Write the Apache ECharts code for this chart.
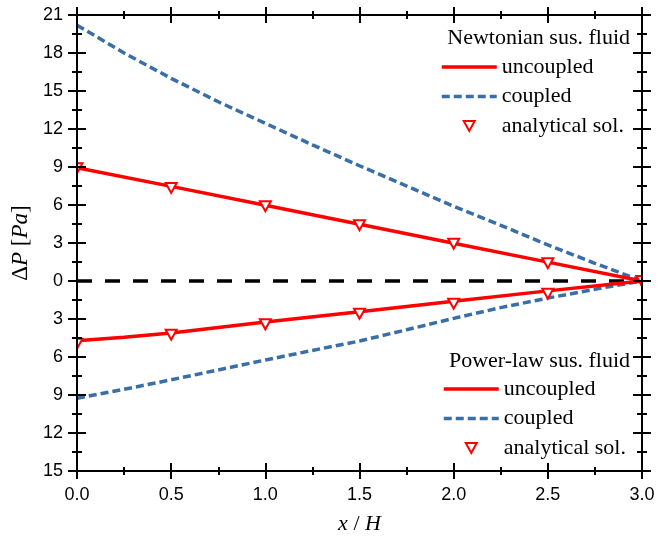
<!DOCTYPE html>
<html>
<head>
<meta charset="utf-8">
<script src="https://cdn.jsdelivr.net/npm/echarts@6/dist/echarts.min.js"></script>
<style>
  html, body { margin: 0; padding: 0; background: #fff; }
  #chart { width: 669px; height: 544px; }
</style>
</head>
<body>
<div id="chart"></div>
<script>
// Axial positions x/H
const xFine = [0, 0.25, 0.5, 0.75, 1.0, 1.25, 1.5, 1.75, 2.0, 2.25, 2.5, 2.75, 3.0];
const xCoarse = [0, 0.5, 1.0, 1.5, 2.0, 2.5, 3.0];
const xPlawUncoupled = [0, 0.25, 0.5, 0.75, 1.0, 1.5, 2.0, 2.5, 3.0];

// Newtonian suspending fluid, pressure drop [Pa]
const newtUncoupled = [8.94, 7.47, 5.98, 4.48, 2.98, 1.49, 0];
const newtCoupled = [20.2, 18.0, 16.0, 14.15, 12.45, 10.75, 9.1, 7.5, 5.9, 4.4, 2.85, 1.4, 0];
const newtAnalytical = [8.9, 7.35, 5.9, 4.4, 2.95, 1.4, 0];

// Power-law suspending fluid, pressure drop [Pa] (plotted below zero)
const plawUncoupled = [-4.72, -4.45, -4.1, -3.67, -3.24, -2.43, -1.6, -0.78, 0];
const plawCoupled = [-9.26, -8.55, -7.8, -7.02, -6.24, -5.48, -4.74, -3.85, -2.95, -2.1, -1.35, -0.65, 0];
const plawAnalytical = [-4.95, -4.24, -3.42, -2.58, -1.79, -1.0, 0];

// Zero reference line
const zeroX = [0, 3.0];
const zeroY = [0, 0];

const RED = '#ff0000';
const BLUE = '#3a6ea6';
const SERIF = '"Liberation Serif", "Times New Roman", serif';
const SANS = '"Liberation Sans", Arial, sans-serif';
const DOWN_TRIANGLE = 'path://M0,0L11,0L5.5,10Z';

const pairs = (xs, ys) => xs.map((x, i) => [x, ys[i]]);

function xAxisDef(position, inside, withLabels) {
  return {
    type: 'value', min: 0, max: 3, interval: 0.5, position: position, z: 5,
    axisLine: { show: true, onZero: false, lineStyle: { color: '#000', width: 2 } },
    axisTick: { show: true, inside: inside, length: 8, lineStyle: { color: '#000', width: 2 } },
    minorTick: { show: true, splitNumber: 2, length: 4, lineStyle: { color: '#000', width: 2 } },
    splitLine: { show: false },
    axisLabel: {
      show: withLabels, margin: 15, color: '#000', fontFamily: SANS, fontSize: 18,
      formatter: v => v.toFixed(1)
    },
    name: withLabels ? '{i|x} / {i|H}' : '',
    nameLocation: 'middle', nameGap: 42,
    nameTextStyle: {
      fontFamily: SERIF, fontSize: 22, color: '#000',
      rich: { i: { fontStyle: 'italic', fontFamily: SERIF, fontSize: 22, color: '#000' } }
    }
  };
}

function yAxisDef(position, inside, withLabels) {
  return {
    type: 'value', min: -15, max: 21, interval: 3, position: position, z: 5,
    axisLine: { show: true, onZero: false, lineStyle: { color: '#000', width: 2 } },
    axisTick: { show: true, inside: inside, length: 9, lineStyle: { color: '#000', width: 2 } },
    minorTick: { show: true, splitNumber: 2, length: 5, lineStyle: { color: '#000', width: 2 } },
    splitLine: { show: false },
    axisLabel: {
      show: withLabels, margin: 14, color: '#000', fontFamily: SANS, fontSize: 18,
      formatter: v => String(Math.abs(v))
    },
    name: withLabels ? '{n|Δ}{i|P} [{i|Pa}]' : '',
    nameLocation: 'middle', nameGap: 37, nameRotate: 90,
    nameTextStyle: {
      fontFamily: SERIF, fontSize: 23, color: '#000',
      rich: {
        n: { fontFamily: SERIF, fontSize: 23, color: '#000' },
        i: { fontStyle: 'italic', fontFamily: SERIF, fontSize: 23, color: '#000' }
      }
    }
  };
}

const lineSeries = (name, data, color, type, width) => ({
  name: name, type: 'line', data: data, symbol: 'none', showSymbol: false,
  smooth: false, z: 3,
  lineStyle: { color: color, width: width, type: type },
  itemStyle: { color: color }
});

// Open down-pointing triangles, clipped to the plotting area
function renderTriangle(params, api) {
  const c = api.coord([api.value(0), api.value(1)]);
  const hw = 5.5, hh = 5;
  const cs = params.coordSys;
  const pts = echarts.graphic.clipPointsByRect(
    [[c[0] - hw, c[1] - hh], [c[0] + hw, c[1] - hh], [c[0], c[1] + hh]],
    { x: cs.x, y: cs.y, width: cs.width, height: cs.height }
  );
  return {
    type: 'polygon',
    shape: { points: pts },
    style: { fill: '#fff', stroke: RED, lineWidth: 2 }
  };
}

const triSeries = (name, data) => ({
  name: name, type: 'custom', data: data, renderItem: renderTriangle, z: 4,
  encode: { x: 0, y: 1 },
  itemStyle: { color: '#fff', borderColor: RED, borderWidth: 2 }
});

const legendText = { fontFamily: SERIF, fontSize: 22, color: '#000', lineHeight: 22 };
const hideDot = { opacity: 0 };

function legendItems(suffix) {
  return [
    { name: 'uncoupled' + suffix, itemStyle: hideDot,
      lineStyle: { color: RED, width: 3.5, type: 'solid' } },
    { name: 'coupled' + suffix, itemStyle: hideDot,
      lineStyle: { color: BLUE, width: 3.5, type: [8, 4] } },
    { name: 'analytical sol.' + suffix, icon: DOWN_TRIANGLE,
      itemStyle: { color: '#fff', borderColor: RED, borderWidth: 2 } }
  ];
}

const option = {
  animation: false,
  backgroundColor: '#fff',
  grid: { left: 77, right: 27, top: 15, bottom: 73, containLabel: false },
  title: [
    { text: 'Newtonian sus. fluid', right: 34, top: 22, padding: 5,
      textStyle: { fontFamily: SERIF, fontSize: 22, fontWeight: 'normal', color: '#000' } },
    { text: 'Power-law sus. fluid', right: 34, top: 345, padding: 5,
      textStyle: { fontFamily: SERIF, fontSize: 22, fontWeight: 'normal', color: '#000' } }
  ],
  legend: [
    {
      data: legendItems(''),
      orient: 'vertical', left: 435, top: 51, itemWidth: 55, itemHeight: 10, itemGap: 7.5,
      selectedMode: false, textStyle: legendText
    },
    {
      data: legendItems(' '),
      orient: 'vertical', left: 437, top: 373, itemWidth: 55, itemHeight: 10, itemGap: 7.5,
      selectedMode: false, textStyle: legendText,
      formatter: n => n.trim()
    }
  ],
  xAxis: [
    xAxisDef('bottom', false, true),
    xAxisDef('bottom', true, false),
    xAxisDef('top', false, false),
    xAxisDef('top', true, false)
  ],
  yAxis: [
    yAxisDef('left', false, true),
    yAxisDef('left', true, false),
    yAxisDef('right', false, false),
    yAxisDef('right', true, false)
  ],
  series: [
    lineSeries('zero', pairs(zeroX, zeroY), '#000', [15, 13], 3.5),
    lineSeries('coupled', pairs(xFine, newtCoupled), BLUE, [8, 4], 3.5),
    lineSeries('coupled ', pairs(xFine, plawCoupled), BLUE, [8, 4], 3.5),
    lineSeries('uncoupled', pairs(xCoarse, newtUncoupled), RED, 'solid', 3.5),
    lineSeries('uncoupled ', pairs(xPlawUncoupled, plawUncoupled), RED, 'solid', 3.5),
    triSeries('analytical sol.', pairs(xCoarse, newtAnalytical)),
    triSeries('analytical sol. ', pairs(xCoarse, plawAnalytical))
  ]
};

const chart = echarts.init(document.getElementById('chart'), null, { renderer: 'canvas' });
chart.setOption(option);
</script>
</body>
</html>
